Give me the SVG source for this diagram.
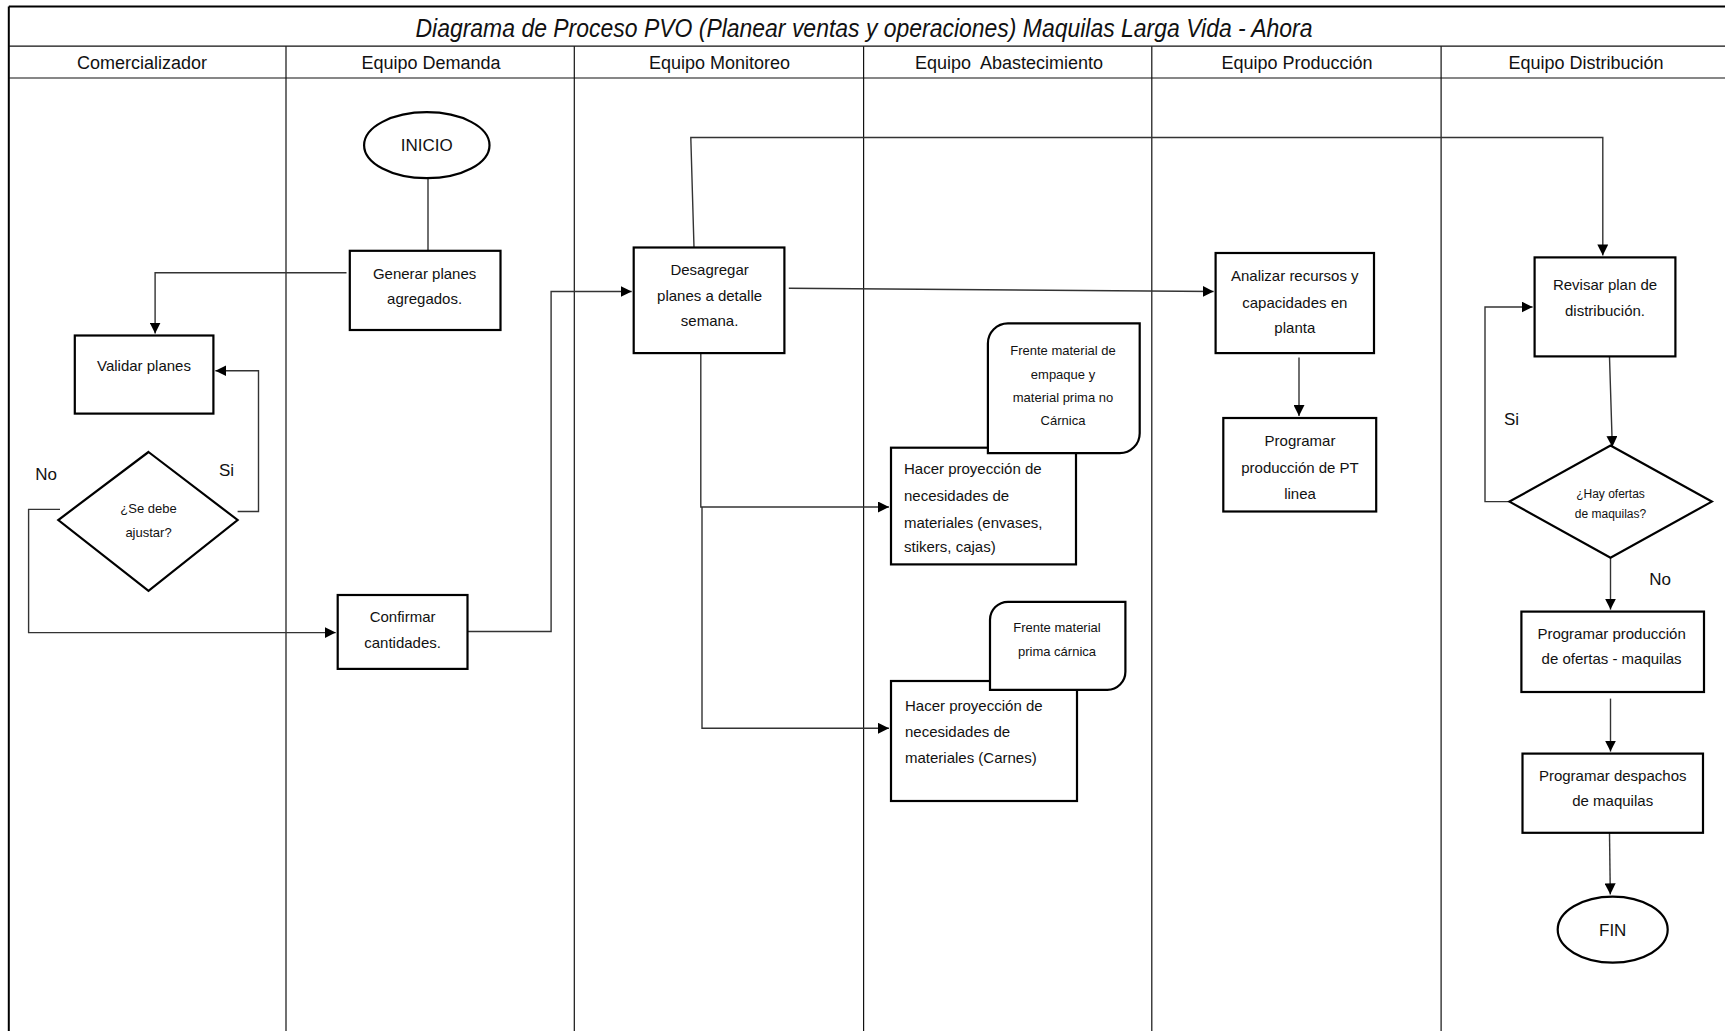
<svg xmlns="http://www.w3.org/2000/svg" width="1725" height="1031" viewBox="0 0 1725 1031">
<style>
.frame{fill:none;stroke:#000;stroke-width:2}
.lane{fill:none;stroke:#111;stroke-width:1.2}
.box{fill:#fff;stroke:#000;stroke-width:2.2}
.con{fill:none;stroke:#333;stroke-width:1.4}
.t{font-family:"Liberation Sans",Arial,sans-serif;font-size:15px;fill:#111;text-anchor:middle}
.tl{font-family:"Liberation Sans",Arial,sans-serif;font-size:15px;fill:#111;text-anchor:start}
.sm{font-family:"Liberation Sans",Arial,sans-serif;font-size:13px;fill:#111;text-anchor:middle}
.xs{font-family:"Liberation Sans",Arial,sans-serif;font-size:12px;fill:#111;text-anchor:middle}
.hd{font-family:"Liberation Sans",Arial,sans-serif;font-size:18px;fill:#111;text-anchor:middle;white-space:pre}
.lbl{font-family:"Liberation Sans",Arial,sans-serif;font-size:17px;fill:#111;text-anchor:middle}
.ttl{font-family:"Liberation Sans",Arial,sans-serif;font-size:26px;font-style:italic;fill:#111;text-anchor:middle}
</style>
<defs>
<marker id="arr" viewBox="0 0 10 10" refX="10" refY="5" markerWidth="11" markerHeight="11" markerUnits="userSpaceOnUse" orient="auto">
<path d="M0,0 L10,5 L0,10 Z" fill="#000"/>
</marker>
</defs>
<rect width="1725" height="1031" fill="#fff"/>
<g id="swimlanes">
<line class="frame" x1="8.8" y1="6.6" x2="1725" y2="6.6"/>
<line class="frame" x1="8.8" y1="6.6" x2="8.8" y2="1031"/>
<line class="lane" x1="8.8" y1="46.2" x2="1725" y2="46.2"/>
<line class="lane" x1="8.8" y1="78" x2="1725" y2="78"/>
<line class="lane" x1="286" y1="46.2" x2="286" y2="1031"/>
<line class="lane" x1="574.3" y1="46.2" x2="574.3" y2="1031"/>
<line class="lane" x1="863.6" y1="46.2" x2="863.6" y2="1031"/>
<line class="lane" x1="1151.8" y1="46.2" x2="1151.8" y2="1031"/>
<line class="lane" x1="1441.1" y1="46.2" x2="1441.1" y2="1031"/>
<text class="ttl" x="864" y="37" textLength="897" lengthAdjust="spacingAndGlyphs">Diagrama de Proceso PVO (Planear ventas y operaciones) Maquilas Larga Vida - Ahora</text>
<text class="hd" x="142" y="69">Comercializador</text>
<text class="hd" x="431" y="69">Equipo Demanda</text>
<text class="hd" x="719.5" y="69">Equipo Monitoreo</text>
<text class="hd" x="1009" y="69">Equipo  Abastecimiento</text>
<text class="hd" x="1297" y="69">Equipo Producción</text>
<text class="hd" x="1586" y="69">Equipo Distribución</text>
</g>
<g id="connectors">
<polyline class="con" points="428,179 428,251"/>
<polyline class="con" points="346.5,272.8 155.1,272.8 155.1,333.5" marker-end="url(#arr)"/>
<polyline class="con" points="237.6,511.5 258.5,511.5 258.5,370.7 215.4,370.7" marker-end="url(#arr)"/>
<polyline class="con" points="60,509.4 28.6,509.4 28.6,632.6 335.7,632.6" marker-end="url(#arr)"/>
<polyline class="con" points="467.5,631.5 551.1,631.5 551.1,291.5 631.7,291.5" marker-end="url(#arr)"/>
<polyline class="con" points="694,247.5 690.8,137.5 1602.8,137.5 1602.8,255.4" marker-end="url(#arr)"/>
<polyline class="con" points="788.8,288.2 1213.6,291.5" marker-end="url(#arr)"/>
<polyline class="con" points="1299,357.5 1299,416" marker-end="url(#arr)"/>
<polyline class="con" points="700.8,341 700.8,507 889,507" marker-end="url(#arr)"/>
<polyline class="con" points="702,507 702,728.3 889,728.3" marker-end="url(#arr)"/>
<polyline class="con" points="1609.5,356.4 1612.3,447" marker-end="url(#arr)"/>
<polyline class="con" points="1509.4,501.6 1485,501.6 1485,307 1532.6,307" marker-end="url(#arr)"/>
<polyline class="con" points="1610.5,557.8 1610.5,609.6" marker-end="url(#arr)"/>
<polyline class="con" points="1610.5,698.6 1610.5,751.6" marker-end="url(#arr)"/>
<polyline class="con" points="1609.5,832.8 1610.3,894.4" marker-end="url(#arr)"/>
<text class="lbl" x="46" y="480">No</text>
<text class="lbl" x="226.6" y="476">Si</text>
<text class="lbl" x="1511.5" y="425">Si</text>
<text class="lbl" x="1660" y="584.6">No</text>
</g>
<g id="inicio">
<ellipse class="box" cx="426.8" cy="145.2" rx="62.7" ry="33"/>
<text class="lbl" x="426.8" y="151">INICIO</text>
</g>
<g id="generar-planes">
<rect class="box" x="349.8" y="250.8" width="150.7" height="79.2"/>
<text class="t" x="424.6" y="279">Generar planes</text>
<text class="t" x="424.6" y="304">agregados.</text>
</g>
<g id="validar-planes">
<rect class="box" x="74.8" y="335.5" width="138.6" height="78.1"/>
<text class="t" x="144" y="371">Validar planes</text>
</g>
<g id="se-debe-ajustar">
<polygon class="box" points="148.5,452 237.6,520 148.5,590.8 58.3,520"/>
<text class="sm" x="148.5" y="512.5">¿Se debe</text>
<text class="sm" x="148.5" y="537">ajustar?</text>
</g>
<g id="confirmar-cantidades">
<rect class="box" x="337.7" y="595" width="129.8" height="73.9"/>
<text class="t" x="402.6" y="622">Confirmar</text>
<text class="t" x="402.6" y="647.5">cantidades.</text>
</g>
<g id="desagregar-planes">
<rect class="box" x="633.7" y="247.5" width="150.7" height="105.6"/>
<text class="t" x="709.6" y="274.5">Desagregar</text>
<text class="t" x="709.6" y="301">planes a detalle</text>
<text class="t" x="709.6" y="326.2">semana.</text>
</g>
<g id="hacer-proyeccion-envases">
<rect class="box" x="891" y="447.7" width="185" height="116.7"/>
<text class="tl" x="904" y="474">Hacer proyección de</text>
<text class="tl" x="904" y="501">necesidades de</text>
<text class="tl" x="904" y="527.5">materiales (envases,</text>
<text class="tl" x="904" y="552">stikers, cajas)</text>
</g>
<g id="frente-no-carnica">
<path class="box" d="M1007.9,323.4 H1139.7 V433.2 A20,20 0 0 1 1119.7,453.2 H987.9 V343.4 A20,20 0 0 1 1007.9,323.4 Z"/>
<text class="sm" x="1063" y="354.5">Frente material de</text>
<text class="sm" x="1063" y="378.5">empaque y</text>
<text class="sm" x="1063" y="401.5">material prima no</text>
<text class="sm" x="1063" y="424.5">Cárnica</text>
</g>
<g id="hacer-proyeccion-carnes">
<rect class="box" x="891" y="681" width="186" height="120"/>
<text class="tl" x="905" y="711">Hacer proyección de</text>
<text class="tl" x="905" y="736.6">necesidades de</text>
<text class="tl" x="905" y="763">materiales (Carnes)</text>
</g>
<g id="frente-carnica">
<path class="box" d="M1008,601.8 H1125.4 V671.8 A18,18 0 0 1 1107.4,689.8 H990 V619.8 A18,18 0 0 1 1008,601.8 Z"/>
<text class="sm" x="1057" y="631.5">Frente material</text>
<text class="sm" x="1057" y="655.5">prima cárnica</text>
</g>
<g id="analizar-recursos">
<rect class="box" x="1215.6" y="253" width="158.4" height="100.1"/>
<text class="t" x="1294.8" y="281">Analizar recursos y</text>
<text class="t" x="1294.8" y="307.5">capacidades en</text>
<text class="t" x="1294.8" y="332.8">planta</text>
</g>
<g id="programar-pt">
<rect class="box" x="1223.3" y="418" width="152.9" height="93.5"/>
<text class="t" x="1300" y="446">Programar</text>
<text class="t" x="1300" y="472.5">producción de PT</text>
<text class="t" x="1300" y="499">linea</text>
</g>
<g id="revisar-plan">
<rect class="box" x="1534.6" y="257.4" width="140.8" height="99"/>
<text class="t" x="1605" y="290">Revisar plan de</text>
<text class="t" x="1605" y="316.3">distribución.</text>
</g>
<g id="hay-ofertas">
<polygon class="box" points="1610.5,445.5 1711.8,501.6 1610.5,557.8 1509.4,501.6"/>
<text class="xs" x="1610.5" y="498">¿Hay ofertas</text>
<text class="xs" x="1610.5" y="518">de maquilas?</text>
</g>
<g id="programar-ofertas">
<rect class="box" x="1521.4" y="611.6" width="182.6" height="80.4"/>
<text class="t" x="1611.6" y="638.7">Programar producción</text>
<text class="t" x="1611.6" y="664">de ofertas - maquilas</text>
</g>
<g id="programar-despachos">
<rect class="box" x="1522.5" y="753.6" width="180.5" height="79.2"/>
<text class="t" x="1612.7" y="780.6">Programar despachos</text>
<text class="t" x="1612.7" y="806">de maquilas</text>
</g>
<g id="fin">
<ellipse class="box" cx="1612.7" cy="929.6" rx="55" ry="33"/>
<text class="lbl" x="1612.7" y="935.6">FIN</text>
</g>
</svg>
